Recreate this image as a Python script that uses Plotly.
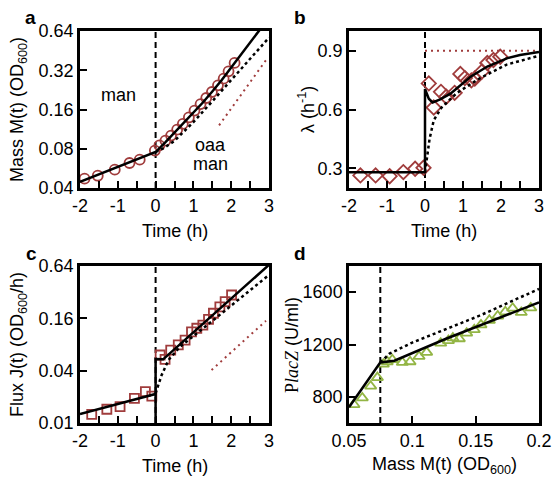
import math
import plotly.graph_objects as go

W, H = 554, 483
FONT = "Liberation Sans, Arial, Helvetica, sans-serif"
RED = "#A03C3C"
GREEN = "#93B545"

# ---------------- Panel a: mass vs time ----------------
a_t = [-1.88, -1.53, -1.08, -0.69, -0.42, -0.02, 0.1, 0.26, 0.41, 0.57, 0.72, 0.88,
       1.03, 1.19, 1.34, 1.49, 1.65, 1.80, 1.93, 2.09]
a_mass = [0.0472, 0.0497, 0.0553, 0.0622, 0.066, 0.0775, 0.085, 0.0923, 0.101, 0.112,
          0.124, 0.139, 0.157, 0.176, 0.196, 0.218, 0.245, 0.276, 0.314, 0.364]
a_fit_t = [-2, -1, 0, 0.25, 0.5, 0.75, 1.0, 1.25, 1.5, 1.75, 2.0, 2.25, 2.5, 3.0]
a_fit_m = [0.0445, 0.058, 0.0755, 0.089, 0.106, 0.126, 0.150, 0.181, 0.22, 0.269,
           0.336, 0.415, 0.516, 0.81]
a_dot_t = [0, 0.25, 0.5, 1.0, 1.5, 2.0, 2.5, 3.0]
a_dot_m = [0.0755, 0.082, 0.092, 0.128, 0.185, 0.27, 0.39, 0.57]
a_ref_t = [1.68, 2.93]
a_ref_m = [0.121, 0.386]

# ---------------- Panel b: growth rate ----------------
b_t = [-1.70, -1.30, -0.93, -0.57, -0.26, -0.04, 0.1, 0.23, 0.42, 0.56, 0.78, 0.93,
       1.05, 1.22, 1.31, 1.5, 1.64, 1.8, 1.98]
b_lam = [0.264, 0.264, 0.260, 0.281, 0.298, 0.303, 0.733, 0.61, 0.69, 0.665, 0.685,
         0.781, 0.76, 0.748, 0.758, 0.794, 0.837, 0.852, 0.869]
b_fit_t = [-2, 0, 0, 0.1, 0.2, 0.4, 0.67, 1.0, 1.2, 1.64, 2.17, 2.5, 3.0]
b_fit_l = [0.28, 0.28, 0.705, 0.655, 0.636, 0.652, 0.681, 0.737, 0.767, 0.819, 0.862,
           0.878, 0.893]
b_dot_t = [0, 0.04, 0.12, 0.23, 0.43, 0.83, 1.45, 2.15, 3.0]
b_dot_l = [0.28, 0.347, 0.45, 0.545, 0.609, 0.683, 0.76, 0.829, 0.874]
b_ref_t = [0, 3]
b_ref_l = [0.9, 0.9]

# ---------------- Panel c: flux ----------------
c_t = [-1.69, -1.29, -0.94, -0.56, -0.27, -0.10, 0.12, 0.25, 0.40, 0.60, 0.78, 0.95,
       1.09, 1.25, 1.40, 1.53, 1.70, 1.84, 2.01]
c_flux = [0.0126, 0.0144, 0.0154, 0.0192, 0.0229, 0.0204, 0.0606, 0.054, 0.069, 0.079,
          0.090, 0.112, 0.123, 0.134, 0.156, 0.183, 0.217, 0.249, 0.297]
c_fit_t = [-2, -1, 0, 0, 0, 0.2, 0.65, 1.53, 2.06, 2.85, 3.0]
c_fit_j = [0.0127, 0.0166, 0.0216, 0.006, 0.0545, 0.054, 0.081, 0.175, 0.284, 0.576, 0.66]
c_dot_t = [0, 0.16, 0.34, 0.65, 1.53, 2.41, 3.0]
c_dot_j = [0.022, 0.0356, 0.053, 0.0756, 0.153, 0.31, 0.505]
c_ref_t = [1.48, 2.92]
c_ref_j = [0.0407, 0.150]

# ---------------- Panel d: PlacZ vs mass ----------------
d_mass = [0.0539, 0.0605, 0.0671, 0.0724, 0.0771, 0.0802, 0.0842, 0.0921, 0.0982,
          0.1053, 0.1113, 0.1224, 0.1285, 0.1320, 0.1371, 0.1429, 0.1489, 0.1542,
          0.1608, 0.1674, 0.1734, 0.1792, 0.1860, 0.1935]
d_placz = [741, 792, 882, 947, 1050, 1068, 1084, 1063, 1068, 1109, 1140, 1210, 1230,
           1250, 1244, 1287, 1313, 1350, 1385, 1418, 1450, 1478, 1445, 1480]
d_fit_m = [0.05, 0.0747, 0.0858, 0.1266, 0.2]
d_fit_p = [720, 1063, 1076, 1244, 1522]
d_dot_m = [0.0747, 0.082, 0.100, 0.127, 0.153, 0.2]
d_dot_p = [1063, 1130, 1215, 1320, 1420, 1625]

shift_time = 0
shift_mass = 0.0747

time_ticks = [-2, -1, 0, 1, 2, 3]
time_text = ["-2", "-1", "0", "1", "2", "3"]
time_minor = [-1.5, -0.5, 0.5, 1.5, 2.5]
a_yticks = [0.04, 0.08, 0.16, 0.32, 0.64]
b_yticks = [0.3, 0.6, 0.9]
c_yticks = [0.01, 0.04, 0.16, 0.64]
d_xticks = [0.05, 0.1, 0.15, 0.2]
d_xtext = ["0.05", "0.1", "0.15", "0.2"]
d_yticks = [800, 1200, 1600]

# ---------------- layout geometry (pixels) ----------------
def xd(p0, p1):
    return [p0 / W, p1 / W]

def yd(p0, p1):  # p0 top px, p1 bottom px
    return [1 - p1 / H, 1 - p0 / H]

XL, XR = xd(80, 269), xd(349, 539)
YT, YB = yd(31, 188), yd(266, 423)


def axis(domain, anchor, rng, tickvals, ticktext=None, typ="linear", minor=None):
    d = dict(domain=domain, anchor=anchor, range=rng, type=typ,
             showline=True, linecolor="black", linewidth=2.5, mirror=True,
             ticks="inside", ticklen=7, tickwidth=2, tickcolor="black",
             tickmode="array", tickvals=tickvals, showgrid=False, zeroline=False,
             tickfont=dict(size=18, color="black", family=FONT), automargin=False)
    if ticktext is not None:
        d["ticktext"] = ticktext
    if minor is not None:
        d["minor"] = dict(tickmode="array", tickvals=minor, ticks="inside", ticklen=7,
                          tickwidth=2, tickcolor="black", showgrid=False)
    return d


fig = go.Figure()


def line(x, y, xa, ya, color="black", width=2.5, dash="solid"):
    fig.add_trace(go.Scatter(x=x, y=y, xaxis=xa, yaxis=ya, mode="lines",
                             line=dict(color=color, width=width, dash=dash),
                             showlegend=False, hoverinfo="skip"))


def marks(x, y, xa, ya, symbol, color, size):
    fig.add_trace(go.Scatter(x=x, y=y, xaxis=xa, yaxis=ya, mode="markers",
                             marker=dict(symbol=symbol, size=size, color=color,
                                         line=dict(color=color, width=1.8)),
                             showlegend=False, hoverinfo="skip"))


# a
marks(a_t, a_mass, "x", "y", "circle-open", RED, 10)
line(a_ref_t, a_ref_m, "x", "y", RED, 2, "2px,4px")
line(a_dot_t, a_dot_m, "x", "y", "black", 2.5, "dot")
line(a_fit_t, a_fit_m, "x", "y")
# b
marks(b_t, b_lam, "x2", "y2", "diamond-open", RED, 11)
line(b_ref_t, b_ref_l, "x2", "y2", RED, 2, "2px,4px")
line(b_dot_t, b_dot_l, "x2", "y2", "black", 2.5, "dot")
line(b_fit_t, b_fit_l, "x2", "y2")
# c
marks(c_t, c_flux, "x3", "y3", "square-open", RED, 9)
line(c_ref_t, c_ref_j, "x3", "y3", RED, 2, "2px,4px")
line(c_dot_t, c_dot_j, "x3", "y3", "black", 2.5, "dot")
line(c_fit_t, c_fit_j, "x3", "y3")
# d
marks(d_mass, d_placz, "x4", "y4", "triangle-up-open", GREEN, 10)
line(d_dot_m, d_dot_p, "x4", "y4", "black", 2.5, "dot")
line(d_fit_m, d_fit_p, "x4", "y4")

shapes = []
for xr, yr, xv in [("x", "y", shift_time), ("x2", "y2", shift_time),
                   ("x3", "y3", shift_time), ("x4", "y4", shift_mass)]:
    shapes.append(dict(type="line", xref=xr, yref=yr + " domain", x0=xv, x1=xv, y0=0, y1=1,
                       line=dict(color="black", width=2, dash="6px,4px"), layer="below"))


def ann(text, px, py, size=18, angle=0, bold=False):
    return dict(text=("<b>%s</b>" % text) if bold else text, x=px / W, y=1 - py / H,
                xref="paper", yref="paper", showarrow=False, textangle=angle,
                xanchor="center", yanchor="middle",
                font=dict(size=size, color="black", family=FONT))


annotations = [
    ann("a", 30, 18, 19, bold=True), ann("b", 300, 18, 19, bold=True),
    ann("c", 31, 253, 19, bold=True), ann("d", 300, 253, 19, bold=True),
    ann("Mass M(t) (OD<sub>600</sub>)", 18, 110, 18, -90),
    ann("λ (h<sup>-1</sup>)", 306, 110, 18, -90),
    ann("Flux J(t) (OD<sub>600</sub>/h)", 18, 345, 18, -90),
    ann("<span style='font-family:Liberation Serif'>P<i>lacZ</i></span> (U/ml)", 292, 345, 18, -90),
    ann("Time (h)", 174.5, 231), ann("Time (h)", 444, 231),
    ann("Time (h)", 174.5, 466), ann("Mass M(t) (OD<sub>600</sub>)", 444, 465),
    ann("man", 118, 95), ann("oaa", 211, 145), ann("man", 211, 164),
]

fig.update_layout(
    width=W, height=H, margin=dict(l=0, r=0, t=0, b=0),
    paper_bgcolor="white", plot_bgcolor="white",
    font=dict(family=FONT, size=18, color="black"),
    xaxis=axis(XL, "y", [-2, 3], time_ticks, time_text, minor=time_minor),
    yaxis=axis(YT, "x", [math.log10(0.04), math.log10(0.64)], a_yticks,
               [str(v) for v in a_yticks], "log"),
    xaxis2=axis(XR, "y2", [-2, 3], time_ticks, time_text, minor=time_minor),
    yaxis2=axis(YT, "x2", [0.2, 1.0], b_yticks, [str(v) for v in b_yticks]),
    xaxis3=axis(XL, "y3", [-2, 3], time_ticks, time_text, minor=time_minor),
    yaxis3=axis(YB, "x3", [math.log10(0.01), math.log10(0.64)], c_yticks,
                [str(v) for v in c_yticks], "log"),
    xaxis4=axis(XR, "y4", [0.05, 0.2], d_xticks, d_xtext),
    yaxis4=axis(YB, "x4", [600, 1800], d_yticks, [str(v) for v in d_yticks]),
    shapes=shapes, annotations=annotations,
)

fig.write_html("out.html")
